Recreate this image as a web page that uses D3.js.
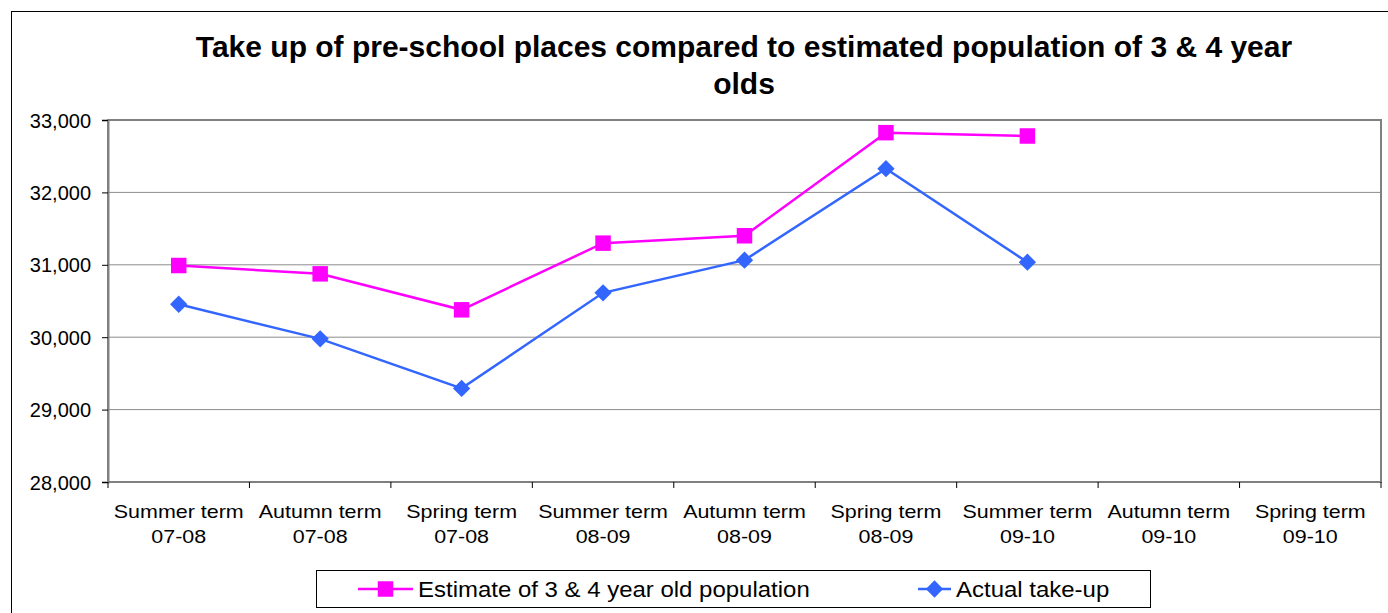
<!DOCTYPE html>
<html><head><meta charset="utf-8">
<script src="https://cdn.jsdelivr.net/npm/d3@7"></script>
<style>body{margin:0;background:#fff;}svg{display:block;font-family:"Liberation Sans",Arial,sans-serif;}</style>
</head><body>
<svg id="c" width="1388" height="613"></svg>
<script>
const categories = [["Summer term","07-08"],["Autumn term","07-08"],["Spring term","07-08"],["Summer term","08-09"],["Autumn term","08-09"],["Spring term","08-09"],["Summer term","09-10"],["Autumn term","09-10"],["Spring term","09-10"]];
const estimate = [30990, 30875, 30378, 31299, 31401, 32825, 32779, null, null];
const actual = [30455, 29977, 29293, 30613, 31064, 32328, 31036, null, null];
const yTicks = [28000, 29000, 30000, 31000, 32000, 33000];
const titleLines = ["Take up of pre-school places compared to estimated population of 3 & 4 year", "olds"];
const seriesNames = ["Estimate of 3 & 4 year old population", "Actual take-up"];

const svg = d3.select("#c");
const L = 108, R = 1381, T = 120, B = 482;
const x = d3.scaleBand().domain(d3.range(categories.length)).range([L, R]);
const y = d3.scaleLinear().domain([28000, 33000]).range([B, T]);

// outer border
svg.append("rect").attr("x", 11.5).attr("y", 11.5).attr("width", 1388).attr("height", 620).attr("fill", "none").attr("stroke", "#000").attr("stroke-width", 1);

// title
svg.append("g").selectAll("text").data(titleLines).join("text")
  .attr("x", 744).attr("y", (d, i) => 57 + i * 37).attr("text-anchor", "middle")
  .attr("font-size", 30).attr("font-weight", "bold").text(d => d);

// gridlines
svg.append("g").selectAll("line").data(yTicks).join("line")
  .attr("x1", L).attr("x2", R).attr("y1", d => y(d)).attr("y2", d => y(d))
  .attr("stroke", "#8c8c8c").attr("stroke-width", 1);

// plot border
svg.append("rect").attr("x", L).attr("y", T).attr("width", R - L).attr("height", B - T)
  .attr("fill", "none").attr("stroke", "#808080").attr("stroke-width", 2);

// y axis
const ya = svg.append("g").attr("transform", `translate(${L},0)`)
  .call(d3.axisLeft(y).tickValues(yTicks).tickSize(6).tickFormat(d3.format(",")));
ya.select(".domain").attr("stroke", "#808080").attr("stroke-width", 2);
ya.selectAll(".tick line").attr("stroke", "#000");
ya.selectAll(".tick text").attr("font-size", 20).attr("fill", "#000").attr("font-family", "Liberation Sans, Arial, sans-serif").attr("x", -17).attr("dy", "0.35em");

// x axis ticks at category boundaries
const xa = svg.append("g").attr("transform", `translate(0,${B})`);
xa.append("line").attr("x1", L).attr("x2", R).attr("stroke", "#808080").attr("stroke-width", 2);
xa.selectAll("line.t").data(d3.range(categories.length + 1)).join("line").attr("class", "t")
  .attr("x1", d => L + d * x.step()).attr("x2", d => L + d * x.step()).attr("y1", 0).attr("y2", 6)
  .attr("stroke", "#000");
const xl = xa.selectAll("text").data(categories).join("text")
  .attr("text-anchor", "middle").attr("font-size", 18.5)
  .attr("transform", (d, i) => `translate(${x(i) + x.bandwidth() / 2},0) scale(1.16,1)`);
xl.selectAll("tspan").data(d => d).join("tspan").attr("x", 0).attr("y", (d, i) => 36 + i * 25).text(d => d);

// lines
const line = d3.line().defined(d => d[1] != null).x(d => x(d[0]) + x.bandwidth() / 2).y(d => y(d[1]));
const series = [
  {name: seriesNames[0], values: estimate, color: "#FF00FF", shape: d3.symbolSquare, size: 240, rot: 0},
  {name: seriesNames[1], values: actual, color: "#3366FF", shape: d3.symbolSquare, size: 150, rot: 45}
];
series.forEach(s => {
  const pts = s.values.map((v, i) => [i, v]);
  svg.append("path").datum(pts).attr("d", line).attr("fill", "none").attr("stroke", s.color).attr("stroke-width", 2.5);
  svg.append("g").selectAll("path").data(pts.filter(p => p[1] != null)).join("path")
    .attr("d", d3.symbol().type(s.shape).size(s.size))
    .attr("transform", d => `translate(${x(d[0]) + x.bandwidth() / 2},${y(d[1])}) rotate(${s.rot})`)
    .attr("fill", s.color);
});

// legend
const lg = svg.append("g");
lg.append("rect").attr("x", 316.5).attr("y", 570.5).attr("width", 834).attr("height", 37).attr("fill", "#fff").attr("stroke", "#000");
const legItems = [{x0: 358, x1: 413, tx: 418, s: series[0]}, {x0: 918, x1: 951, tx: 956, s: series[1]}];
legItems.forEach(it => {
  lg.append("line").attr("x1", it.x0).attr("x2", it.x1).attr("y1", 589).attr("y2", 589).attr("stroke", it.s.color).attr("stroke-width", 2.5);
  lg.append("path").attr("d", d3.symbol().type(it.s.shape).size(it.s.size))
    .attr("transform", `translate(${(it.x0 + it.x1) / 2},589) rotate(${it.s.rot})`).attr("fill", it.s.color);
  lg.append("text").attr("transform", `translate(${it.tx},597) scale(1.09,1)`).attr("font-size", 22).text(it.s.name);
});
</script>
</body></html>
